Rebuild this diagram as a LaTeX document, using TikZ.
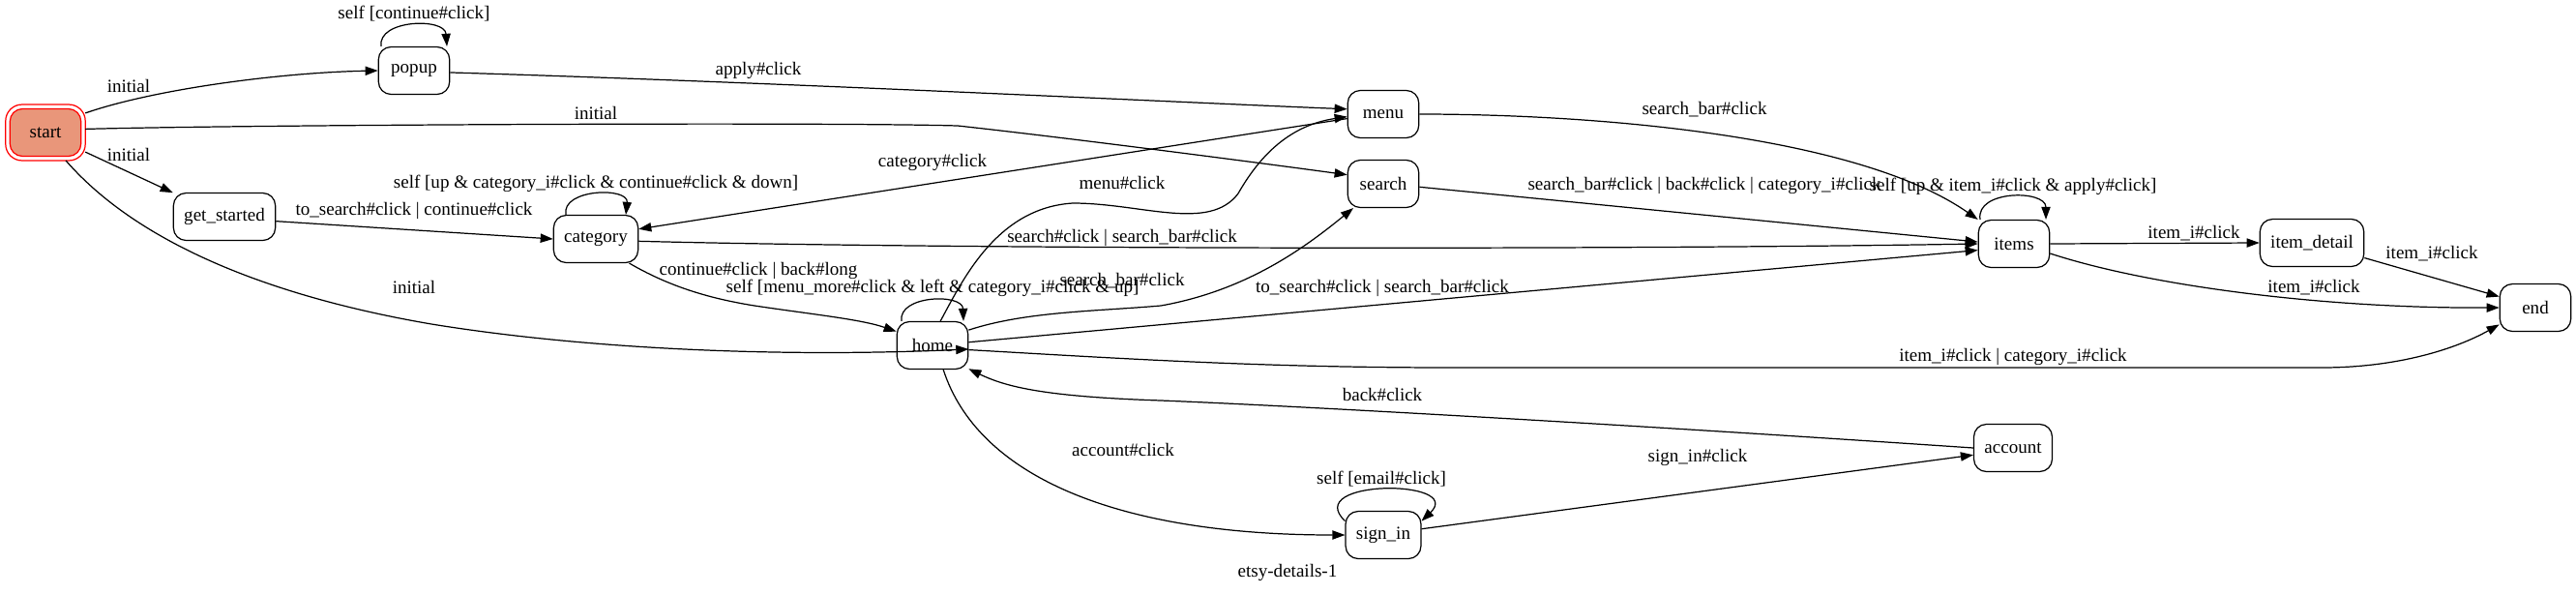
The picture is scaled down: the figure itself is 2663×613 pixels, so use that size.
\documentclass[tikz,border=0pt]{standalone}
\usepackage{fontspec}
\setmainfont{Liberation Serif}
\usetikzlibrary{arrows.meta,calc}
\definecolor{startfill}{RGB}{233,150,122}
\begin{document}
\begin{tikzpicture}[x=0.7353pt,y=-0.7353pt,
  stbox/.style={draw, line width=0.9pt, rounded corners=9.5pt, minimum width=54pt, minimum height=36pt, inner xsep=8pt, font=\fontsize{14}{16}\selectfont},
  lbl/.style={inner sep=0pt, font=\fontsize{14}{16}\selectfont},
  conn/.style={line width=0.9pt, -{Triangle[length=9.6pt,width=6.8pt]}}]
\useasboundingbox (0,0) rectangle (2663,613);

% states
\node[stbox, fill=startfill, draw=red, outer sep=3.3pt] (start) at (47,137) {start};
\draw[red, line width=0.9pt, rounded corners=12.5pt] (start.south west) rectangle (start.north east);
\node[stbox] (popup) at (428,73) {popup};
\node[stbox] (get_started) at (232,224) {get\_started};
\node[stbox] (category) at (616,247) {category};
\node[stbox] (home) at (964,357) {home};
\node[stbox] (sign_in) at (1430,553) {sign\_in};
\node[stbox] (menu) at (1430,118) {menu};
\node[stbox] (search) at (1430,190) {search};
\node[stbox] (items) at (2082,252) {items};
\node[stbox] (item_detail) at (2390,251) {item\_detail};
\node[stbox] (end) at (2621,318) {end};
\node[stbox] (account) at (2081,463) {account};
\node[lbl] (title) at (1331,592) {etsy-details-1};

% connectors
\draw[conn] (start.26) .. controls (160,92) and (290,75) .. (popup.west);
\draw[conn] (start.5) .. controls (250,129) and (850,126) .. (990,130) .. controls (1100,142) and (1300,168) .. (search.166);
\draw[conn] (start.-26) -- (get_started.155);
\draw[conn] (start.-54) .. controls (150,260) and (300,310) .. (446,335) .. controls (600,360) and (800,370) .. (home.-6);
\draw[conn] ($(popup.north)+(-34,0)$) .. controls (390,20) and (460,18) .. ($(popup.north)+(34,0)$);
\draw[conn] (popup.-3) .. controls (800,85) and (1200,105) .. (menu.172);
\draw[conn] (get_started.-5) -- (category.west);
\draw[conn] ($(category.north)+(-31,0)$) .. controls (580,195) and (650,193) .. ($(category.north)+(31,0)$);
\draw[conn] (menu.-173) -- (category.13);
\draw[conn] (category.-3) .. controls (1000,258) and (1700,258) .. (items.west);
\draw[conn] (category.-36) .. controls (690,295) and (730,308) .. (780,316) .. controls (840,325) and (890,330) .. (home.159);
\draw[conn] ($(home.north)+(-32,0)$) .. controls (928,305) and (995,303) .. ($(home.north)+(32,0)$);
\draw[conn] (home.72) .. controls (995,290) and (1030,215) .. (1109,210) .. controls (1180,210) and (1250,240) .. (1280,200) .. controls (1300,165) and (1330,130) .. (menu.-176);
\draw[conn] (home.23) .. controls (1060,322) and (1130,322) .. (1200,316) .. controls (1290,300) and (1350,255) .. (search.219);
\draw[conn] (home.5) -- (items.-170);
\draw[conn] (home.-7) .. controls (1150,370) and (1300,380) .. (1500,380) -- (2400,380) .. controls (2480,380) and (2540,360) .. (end.205);
\draw[conn] (account.west) .. controls (1700,440) and (1350,420) .. (1200,414) .. controls (1080,410) and (1040,400) .. (home.-33);
\draw[conn] (home.-66) .. controls (1010,490) and (1150,553) .. (sign_in.west);
\draw[conn] (sign_in.160) .. controls (1345,495) and (1515,495) .. (sign_in.20);
\draw[conn] (sign_in.9) -- (account.190);
\draw[conn] (search.-5) -- (items.177);
\draw[conn] (menu.east) .. controls (1650,118) and (1920,140) .. (items.north west);
\draw[conn] ($(items.north)+(-35,0)$) .. controls (2042,196) and (2115,196) .. ($(items.north)+(33,0)$);
\draw[conn] (items.east) -- (item_detail.west);
\draw[conn] (items.-15) .. controls (2220,295) and (2400,319) .. (end.west);
\draw[conn] (item_detail.-16) -- (end.163);

% labels
\node[lbl] (l1) at (133,89) {initial};
\node[lbl] (l2) at (616,117) {initial};
\node[lbl] (l3) at (133,160) {initial};
\node[lbl] (l4) at (428,297) {initial};
\node[lbl] (l5) at (428,14) {self [continue\#click]};
\node[lbl] (l6) at (784,73) {apply\#click};
\node[lbl] (l7) at (428,218) {to\_search\#click | continue\#click};
\node[lbl] (l8) at (616,190) {self [up \& category\_i\#click \& continue\#click \& down]};
\node[lbl] (l9) at (964,168) {category\#click};
\node[lbl] (l10) at (1160,246) {search\#click | search\_bar\#click};
\node[lbl] (l11) at (784,280) {continue\#click | back\#long};
\node[lbl] (l12) at (964,298) {self [menu\_more\#click \& left \& category\_i\#click \& up]};
\node[lbl] (l13) at (1160,189) {menu\#click};
\node[lbl] (l14) at (1160,290) {search\_bar\#click};
\node[lbl] (l15) at (1429,298) {to\_search\#click | search\_bar\#click};
\node[lbl] (l16) at (2081,369) {item\_i\#click | category\_i\#click};
\node[lbl] (l17) at (1429,408) {back\#click};
\node[lbl] (l18) at (1161,465) {account\#click};
\node[lbl] (l19) at (1428,495) {self [email\#click]};
\node[lbl] (l20) at (1755,473) {sign\_in\#click};
\node[lbl] (l21) at (1762,192) {search\_bar\#click | back\#click | category\_i\#click};
\node[lbl] (l22) at (1762,113) {search\_bar\#click};
\node[lbl] (l23) at (2081,193) {self [up \& item\_i\#click \& apply\#click]};
\node[lbl] (l24) at (2268,241) {item\_i\#click};
\node[lbl] (l25) at (2392,297) {item\_i\#click};
\node[lbl] (l26) at (2514,262) {item\_i\#click};
\end{tikzpicture}
\end{document}
